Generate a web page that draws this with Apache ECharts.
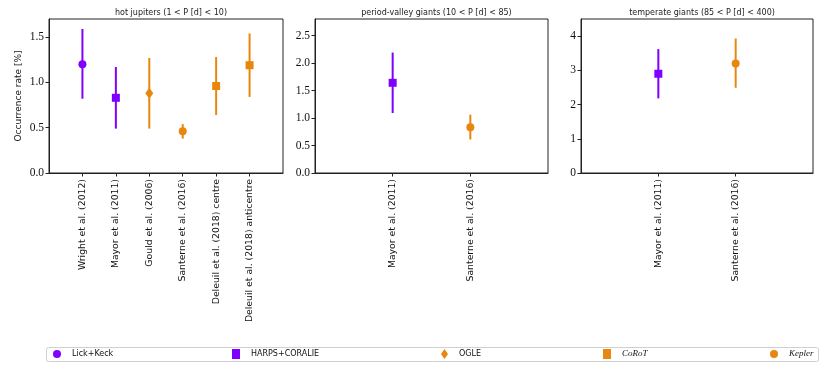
<!DOCTYPE html>
<html>
<head>
<meta charset="utf-8">
<script src="https://cdn.jsdelivr.net/npm/echarts@6/dist/echarts.min.js"></script>
<style>
  html, body { margin: 0; padding: 0; background: #fff; }
  #chart { width: 830px; height: 386px; }
</style>
</head>
<body>
<div id="chart"></div>
<script>
// panel titles
const panelTitles = [
  'hot jupiters (1 < P [d] < 10)',
  'period-valley giants (10 < P [d] < 85)',
  'temperate giants (85 < P [d] < 400)'
];

// hot jupiters
const hotLabels = ['Wright et al. (2012)', 'Mayor et al. (2011)', 'Gould et al. (2006)',
  'Santerne et al. (2016)', 'Deleuil et al. (2018) centre', 'Deleuil et al. (2018) anticentre'];
const hotSurvey = ['Lick+Keck', 'HARPS+CORALIE', 'OGLE', 'Kepler', 'CoRoT', 'CoRoT'];
const hotRate = [1.2, 0.83, 0.88, 0.46, 0.96, 1.19];
const hotLow = [0.82, 0.49, 0.49, 0.38, 0.64, 0.84];
const hotHigh = [1.59, 1.17, 1.27, 0.54, 1.28, 1.54];

// period-valley giants
const pvLabels = ['Mayor et al. (2011)', 'Santerne et al. (2016)'];
const pvSurvey = ['HARPS+CORALIE', 'Kepler'];
const pvRate = [1.64, 0.83];
const pvLow = [1.09, 0.61];
const pvHigh = [2.19, 1.06];

// temperate giants
const tgLabels = ['Mayor et al. (2011)', 'Santerne et al. (2016)'];
const tgSurvey = ['HARPS+CORALIE', 'Kepler'];
const tgRate = [2.9, 3.2];
const tgLow = [2.18, 2.49];
const tgHigh = [3.62, 3.93];

// y ticks
const hotTicks = [0, 0.5, 1.0, 1.5];
const pvTicks = [0, 0.5, 1.0, 1.5, 2.0, 2.5];
const tgTicks = [0, 1, 2, 3, 4];

const surveys = ['Lick+Keck', 'HARPS+CORALIE', 'OGLE', 'CoRoT', 'Kepler'];

const PURPLE = '#7f00ff';
const ORANGE = '#e8870e';
const surveyStyle = {
  'Lick+Keck': { color: PURPLE, symbol: 'circle', size: 8 },
  'HARPS+CORALIE': { color: PURPLE, symbol: 'rect', size: 8 },
  'OGLE': { color: ORANGE, symbol: 'diamond', size: [8, 11] },
  'CoRoT': { color: ORANGE, symbol: 'rect', size: 8 },
  'Kepler': { color: ORANGE, symbol: 'circle', size: 8 }
};

const panels = [
  { labels: hotLabels, survey: hotSurvey, rate: hotRate, low: hotLow, high: hotHigh, ticks: hotTicks, ymax: 1.7, left: 49, width: 234, dec: 1 },
  { labels: pvLabels, survey: pvSurvey, rate: pvRate, low: pvLow, high: pvHigh, ticks: pvTicks, ymax: 2.8, left: 315, width: 233, dec: 1 },
  { labels: tgLabels, survey: tgSurvey, rate: tgRate, low: tgLow, high: tgHigh, ticks: tgTicks, ymax: 4.5, left: 581, width: 232, dec: 0 }
];

const chart = echarts.init(document.getElementById('chart'), null, { renderer: 'canvas' });

const grids = [], xAxes = [], yAxes = [], titles = [], series = [];
const axisColor = '#222';

panels.forEach(function (p, i) {
  grids.push({ left: p.left, top: 19, width: p.width, height: 154, show: true, borderColor: axisColor, borderWidth: 1 });
  titles.push({
    text: panelTitles[i], left: p.left + p.width / 2, top: 4, textAlign: 'center',
    textStyle: { fontFamily: 'DejaVu Sans', fontSize: 8, fontWeight: 'normal', color: '#222' }
  });
  const idx = p.labels.map(function (_, k) { return k; });
  xAxes.push({
    gridIndex: i, type: 'value', min: -1, max: p.labels.length, interval: 1,
    splitLine: { show: false },
    axisLine: { onZero: false, lineStyle: { color: axisColor } },
    axisTick: { customValues: idx, length: 3.5, lineStyle: { color: axisColor } },
    axisLabel: {
      customValues: idx, rotate: 90, margin: 6,
      fontFamily: 'DejaVu Sans', fontSize: 9.3, color: '#111',
      formatter: function (v) { return p.labels[Math.round(v)] || ''; }
    }
  });
  yAxes.push({
    gridIndex: i, type: 'value', min: 0, max: p.ymax,
    name: i === 0 ? 'Occurrence rate [%]' : '',
    nameLocation: 'middle', nameGap: 26,
    nameTextStyle: { fontFamily: 'DejaVu Sans', fontSize: 9, color: '#111' },
    splitLine: { show: false },
    axisLine: { show: true, onZero: false, lineStyle: { color: axisColor } },
    axisTick: { show: true, customValues: p.ticks, length: 3.5, lineStyle: { color: axisColor } },
    axisLabel: {
      customValues: p.ticks, margin: 5,
      fontFamily: 'Liberation Serif', fontSize: 11.5, color: '#111',
      formatter: function (v) { return v.toFixed(p.dec); }
    }
  });

  // error bars
  series.push({
    type: 'custom', xAxisIndex: i, yAxisIndex: i, z: 2, silent: true,
    data: p.rate.map(function (_, k) { return [k, p.low[k], p.high[k], k]; }),
    renderItem: function (params, api) {
      const a = api.coord([api.value(0), api.value(1)]);
      const b = api.coord([api.value(0), api.value(2)]);
      const s = surveyStyle[p.survey[api.value(3)]];
      return {
        type: 'line',
        shape: { x1: a[0], y1: a[1], x2: b[0], y2: b[1] },
        style: { stroke: s.color, lineWidth: 2 }
      };
    }
  });

  // markers, one series per survey
  surveys.forEach(function (name) {
    const pts = [];
    p.survey.forEach(function (sv, k) { if (sv === name) pts.push([k, p.rate[k]]); });
    if (!pts.length) return;
    const s = surveyStyle[name];
    series.push({
      name: name, type: 'scatter', xAxisIndex: i, yAxisIndex: i, z: 3,
      symbol: s.symbol, symbolSize: s.size,
      itemStyle: { color: s.color, opacity: 1 },
      data: pts
    });
  });
});

// legend: one entry per column, spread across the box
const legendLeft = [53, 232, 441, 603, 770];
const legends = surveys.map(function (name, k) {
  const s = surveyStyle[name];
  const italic = name === 'CoRoT' || name === 'Kepler';
  return {
    data: [{ name: name, icon: s.symbol }],
    left: legendLeft[k], top: 349, itemGap: 0, padding: 0,
    itemWidth: name === 'OGLE' ? 7 : 8, itemHeight: 10,
    selectedMode: false,
    textStyle: {
      fontFamily: italic ? 'Liberation Serif' : 'DejaVu Sans',
      fontStyle: italic ? 'italic' : 'normal',
      fontSize: italic ? 9 : 8, color: '#111', padding: [0, 0, 0, 6],
      lineHeight: 10
    }
  };
});

const option = {
  backgroundColor: '#fff',
  animation: false,
  title: titles,
  grid: grids,
  xAxis: xAxes,
  yAxis: yAxes,
  legend: legends,
  graphic: [{
    type: 'rect', left: 46, top: 347, z: -1,
    shape: { width: 772, height: 14, r: 2 },
    style: { fill: '#fff', stroke: '#d0d0d0', lineWidth: 1 }
  }],
  series: series
};

chart.setOption(option);
window.addEventListener('resize', function () {
  chart.resize();
});
</script>
</body>
</html>
